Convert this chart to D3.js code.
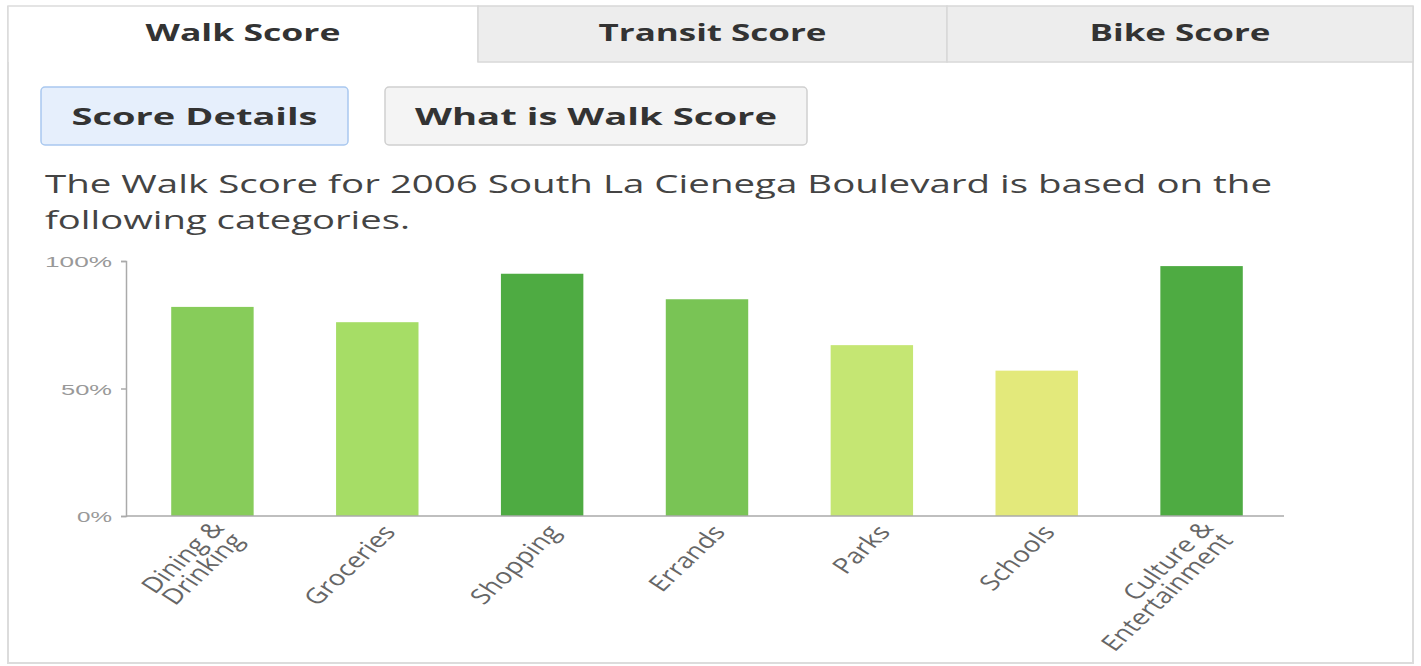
<!DOCTYPE html>
<html>
<head>
<meta charset="utf-8">
<script src="https://cdn.jsdelivr.net/npm/d3@7"></script>
<style>
  body { margin: 0; background: #fff; }
  svg { display: block; font-family: "Open Sans", sans-serif; }
</style>
</head>
<body>
<div id="chart"></div>
<script>
// chart values
const categories = ["Dining & Drinking", "Groceries", "Shopping", "Errands", "Parks", "Schools", "Culture & Entertainment"];
const labelLines = [["Dining &", "Drinking"], ["Groceries"], ["Shopping"], ["Errands"], ["Parks"], ["Schools"], ["Culture &", "Entertainment"]];
const scores = [82, 76, 95, 85, 67, 57, 98];
const barColors = ["#87cc5a", "#a6dd66", "#4eab42", "#79c455", "#c5e673", "#e3e97b", "#4eab42"];
const yTicks = [0, 50, 100];
const tabNames = ["Walk Score", "Transit Score", "Bike Score"];
const tabTextWidths = [195, 228, 181];
const buttonNames = ["Score Details", "What is Walk Score"];
const buttonTextWidths = [246, 362];
const introLines = ["The Walk Score for 2006 South La Cienega Boulevard is based on the", "following categories."];
const introWidths = [1227, 365];

const W = 1421, H = 666;
const SX = 1.3; // text in the page is drawn a bit wide

const svg = d3.select("#chart").append("svg")
    .attr("width", W)
    .attr("height", H);

// small helper: place text with the horizontal stretch
function wideText(g, str, x, y, opts) {
    const rot = opts.rotate || 0;
    const t = g.append("text")
        .attr("transform", `translate(${x},${y}) scale(${SX},1)` + (rot ? ` rotate(${rot})` : ""))
        .attr("text-anchor", opts.anchor || "start")
        .attr("font-size", opts.size)
        .attr("font-weight", opts.weight || "normal")
        .attr("fill", opts.color)
        .text(str);
    if (opts.width) {
        t.attr("textLength", opts.width / SX).attr("lengthAdjust", "spacingAndGlyphs");
    }
    return t;
}

// outer panel
svg.append("path")
    .attr("d", "M8,6 V663 H1413 V6")
    .attr("fill", "none")
    .attr("stroke", "#dcdcdc")
    .attr("stroke-width", 2);

// tabs
const tabEdges = [8, 478, 947, 1413];
tabNames.forEach((name, i) => {
    const x0 = tabEdges[i], x1 = tabEdges[i + 1];
    if (i > 0) {
        svg.append("rect")
            .attr("x", x0).attr("y", 6)
            .attr("width", x1 - x0).attr("height", 56)
            .attr("fill", "#ededed")
            .attr("stroke", "#d8d8d8")
            .attr("stroke-width", 1.5);
    } else {
        svg.append("path")
            .attr("d", `M${x0},62 V6 H${x1} V62`)
            .attr("fill", "#fff")
            .attr("stroke", "#dcdcdc")
            .attr("stroke-width", 1.5);
    }
    wideText(svg, name, (x0 + x1) / 2, 41, { anchor: "middle", size: 23, weight: "bold", color: "#333", width: tabTextWidths[i] });
});

// buttons
const buttonBoxes = [
    { x: 41, w: 307, fill: "#e6effc", stroke: "#a9c8ef" },
    { x: 385, w: 422, fill: "#f4f4f4", stroke: "#cfcfcf" }
];
buttonNames.forEach((name, i) => {
    const b = buttonBoxes[i];
    svg.append("rect")
        .attr("x", b.x).attr("y", 87)
        .attr("width", b.w).attr("height", 58)
        .attr("rx", 4)
        .attr("fill", b.fill)
        .attr("stroke", b.stroke)
        .attr("stroke-width", 1.5);
    wideText(svg, name, b.x + b.w / 2, 125, { anchor: "middle", size: 24, weight: "bold", color: "#333", width: buttonTextWidths[i] });
});

// intro text
introLines.forEach((line, i) => {
    wideText(svg, line, 45, 193 + i * 36, { size: 25, color: "#444", width: introWidths[i] });
});

// chart
const x = d3.scaleBand()
    .domain(categories)
    .range([130, 1284])
    .paddingInner(0.5)
    .paddingOuter(0.25);

const y = d3.scaleLinear()
    .domain([0, 100])
    .range([516, 261]);

const axisX0 = 126;

const yAxisG = svg.append("g")
    .attr("transform", `translate(${axisX0},0)`)
    .call(d3.axisLeft(y).tickValues(yTicks).tickSize(5).tickFormat(d => d + "%"));
yAxisG.selectAll("path, line").attr("stroke", "#aaa").attr("stroke-width", 1.5);
yAxisG.selectAll("text").remove();
yTicks.forEach(t => {
    const label = t + "%";
    wideText(yAxisG, label, -14, y(t) + 6, { anchor: "end", size: 15, color: "#999", width: label.length * 16 + 3 });
});

// bars
svg.selectAll(".bar")
    .data(scores)
    .join("rect")
    .attr("class", "bar")
    .attr("x", (d, i) => x(categories[i]))
    .attr("width", x.bandwidth())
    .attr("y", d => y(d))
    .attr("height", d => y(0) - y(d))
    .attr("fill", (d, i) => barColors[i]);

// x axis line
svg.append("line")
    .attr("x1", axisX0).attr("x2", x.range()[1])
    .attr("y1", y(0)).attr("y2", y(0))
    .attr("stroke", "#aaa")
    .attr("stroke-width", 1.5);

// rotated category labels
const labelG = svg.append("g");
categories.forEach((c, i) => {
    const lines = labelLines[i];
    const t = wideText(labelG, "", x(c) + x.bandwidth() / 2 + 12, y(0) + 12,
        { anchor: "end", size: 21.5, color: "#666", rotate: -50.5 });
    lines.forEach((ln, j) => {
        t.append("tspan")
            .attr("x", 0)
            .attr("dy", j === 0 ? (0.35 - 0.3 * (lines.length - 1)) + "em" : "0.9em")
            .text(ln);
    });
});
</script>
</body>
</html>
